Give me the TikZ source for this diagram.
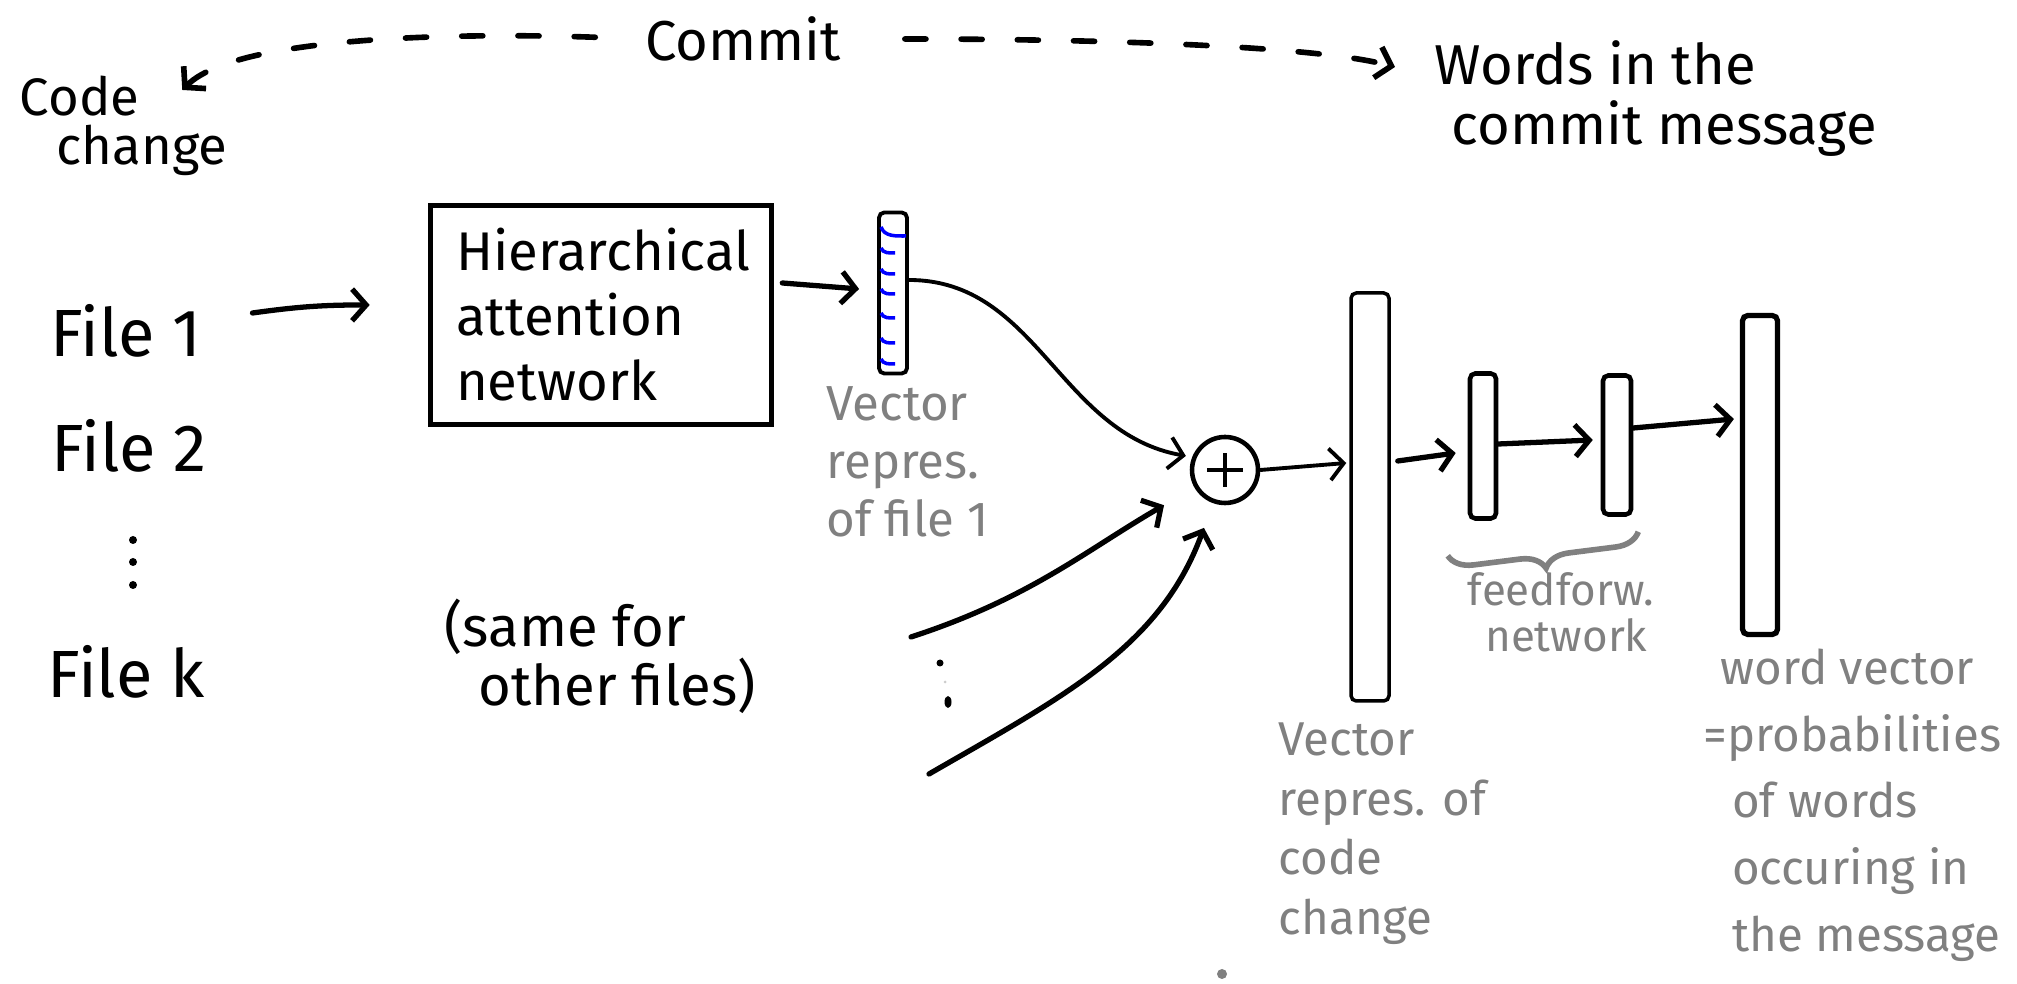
\documentclass[tikz,border=0pt]{standalone}
\usepackage{fontspec}
\setmainfont{Fira Sans}
\usetikzlibrary{calc,arrows.meta,decorations.pathreplacing}

\tikzset{
  hand/.style={align=left, inner sep=0pt, font=\fontsize{16}{15}\selectfont},
  note/.style={align=left, inner sep=0pt, text=gray, font=\fontsize{14}{16.5}\selectfont},
  vbar/.style={draw, line width=1.1pt, rounded corners=1.5pt, inner sep=0pt},
  arr/.style={-{Straight Barb[length=4pt,width=9pt]}, line width=1.5pt, line cap=round},
  dashline/.style={arr, dash pattern=on 6pt off 10pt, line width=1.6pt},
}

\begin{document}
\begin{tikzpicture}[x=0.1mm, y=0.1mm]
  \fill[white] (0,0) rectangle (2017,984);
  \useasboundingbox (0,0) rectangle (2017,984);

  % Draw the commit and its two parts
  \node[hand] (commit) at (743,945) {Commit};
  \node[hand, anchor=north west, font=\fontsize{15}{14}\selectfont] (code) at (19,909) {Code\\\hspace*{.7em}change};
  \node[hand, anchor=north west, font=\fontsize{16}{17}\selectfont] (words) at (1434,944) {Words in the\\\hspace*{.3em}commit message};
  \draw[dashline, shorten <=14pt] (commit.west) to[out=178, in=45, looseness=0.5] ($(code.north east)+(-46,-15)$);
  \draw[dashline, shorten <=18pt] (commit.east) to[out=0, in=165, looseness=0.5] ($(words.north west)+(-39,-27)$);

  % Draw the input files
  \node[hand, font=\fontsize{19}{19}\selectfont] (file1) at (126,653) {File 1};
  \node[hand, font=\fontsize{19}{19}\selectfont] (file2) at (129,538) {File 2};
  \node[hand, font=\fontsize{19}{19}\selectfont] (filek) at (126,312) {File k};
  \foreach \dy in {444,422,399}
    \fill (133,\dy) circle (4);

  % Hierarchical attention network for file 1
  \node[draw, line width=1.6pt, minimum width=3.41cm, minimum height=2.19cm, inner sep=0pt,
        text width=2.9cm, align=left, font=\fontsize{15.5}{18.5}\selectfont] (han) at (601,669)
        {Hierarchical\\attention\\network};
  \draw[arr] ($(file1.east)+(50,18)$) to[bend left=4] ($(han.west)+(-58,10)$);

  % Vector of file 1 with its entries
  \node[vbar, minimum width=2.8mm, minimum height=16.1mm] (vec1) at (893,691) {};
  \draw[blue, line width=1pt] (881,757) to[out=-70, in=180] (906,748);
  \foreach \ty in {732,711,691,667,642,621}
    \draw[blue, line width=1pt] (881,\ty+4) to[out=-70, in=180] (895,\ty-1);
  \draw[arr] ($(han.east)+(8,32)$) -- ($(vec1.west)+(-18,4)$);
  \node[note, anchor=north west] (v1lab) at (826,598) {Vector\\repres.\\of file 1};

  % Sum over all files
  \node[draw, circle, line width=1.3pt, minimum size=6.6mm, inner sep=0pt,
        path picture={\draw[line width=1.4pt] (path picture bounding box.center)
          +(-18,0) -- +(18,0) +(0,-17) -- +(0,17);}] (plus) at (1225,514) {};
  \draw[arr, line width=1.1pt] ($(vec1.east)+(0,13)$) to[out=0, in=170] ($(plus.160)+(-6,2)$);

  % Same for other files
  \coordinate (oa) at (911,347);
  \coordinate (ob) at (929,210);
  \draw[arr, shorten >=10pt] (oa) to[out=18, in=210] (plus);
  \draw[arr, shorten >=7.5pt] (ob) to[out=30, in=250] (plus);
  \fill (940,321) circle (3.5);
  \fill[gray!40] (945,302) circle (1.5);
  \fill (948,282) ellipse (3.5 and 6);
  \node[hand, anchor=north west] (other) at (444,386) {(same for\\\hspace*{.6em}other files)};

  % Code change vector and feedforward network
  \node[vbar, line width=1pt, minimum width=3.8mm, minimum height=40.8mm] (cvec) at (1370,487) {};
  \node[vbar, line width=1.3pt, minimum width=2.6mm, minimum height=14.5mm] (ff1) at (1483,538) {};
  \node[vbar, line width=1.3pt, minimum width=2.8mm, minimum height=13.9mm] (ff2) at (1617,539) {};
  \node[vbar, line width=1.5pt, minimum width=3.5mm, minimum height=31.9mm] (out) at (1760,509) {};
  \draw[arr, line width=1.1pt] (plus.east) -- ($(cvec.west)+(-3,34)$);
  \draw[arr] ($(cvec.east)+(7,36)$) -- ($(ff1.west)+(-12,-7)$);
  \draw[arr] ($(ff1.east)+(0,2)$) -- ($(ff2.west)+(-8,5)$);
  \draw[arr] ($(ff2.east)+(0,17)$) -- ($(out.west)+(-6,56)$);
  \draw[gray, line width=1.6pt, decorate, decoration={brace, mirror, amplitude=7pt}]
    ($(ff1.south west)+(-20,-35)$) -- ($(ff2.south east)+(5,-15)$);

  % Labels under the vectors
  \node[note, anchor=north west, font=\fontsize{12.5}{13}\selectfont] (fflab) at (1467,412) {feedforw.\\\hspace*{.4em}network};
  \node[note, anchor=north west, font=\fontsize{13.5}{17}\selectfont] (cvlab) at (1278,262) {Vector\\repres. of\\code\\change};
  \node[note, anchor=north west, font=\fontsize{13.5}{19}\selectfont] (outlab) at (1703,336)
    {\hspace*{.35em}word vector\\=probabilities\\\hspace*{.6em}of words\\\hspace*{.6em}occuring in\\\hspace*{.6em}the message};
  \fill[gray] (1222,10) circle (5);
\end{tikzpicture}
\end{document}
